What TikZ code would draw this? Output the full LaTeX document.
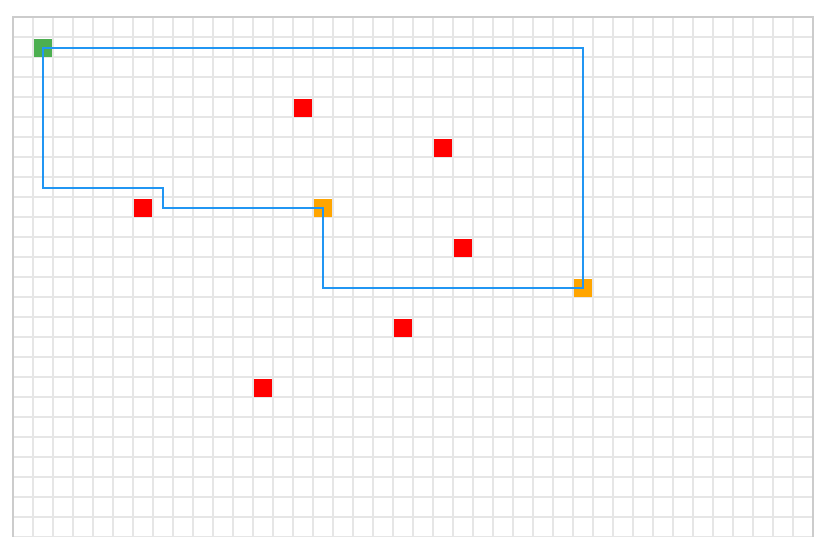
\documentclass[tikz,border=0pt]{standalone}
\usetikzlibrary{calc}
\definecolor{gridc}{HTML}{E6E6E6}
\definecolor{borderc}{HTML}{CCCCCC}
\definecolor{pathc}{HTML}{2196F3}
\definecolor{startc}{HTML}{4CAF50}
\definecolor{wayc}{HTML}{FFA500}
\definecolor{obstc}{HTML}{FF0000}
\tikzset{
  gridline/.style={draw=gridc, line width=1.3pt},
  borderline/.style={draw=borderc, line width=1.2pt},
  cell/.style={minimum size=18pt, inner sep=0pt, outer sep=0pt},
  startcell/.style={cell, fill=startc},
  waycell/.style={cell, fill=wayc},
  obstcell/.style={cell, fill=obstc},
  route/.style={draw=pathc, line width=1.8pt, line join=miter}
}
\begin{document}
\begin{tikzpicture}[x=1pt,y=-1pt]
\useasboundingbox (0,0) rectangle (822,537);
\fill[white] (0,0) rectangle (822,537);
\begin{scope}
\clip (0,0) rectangle (822,537);
\foreach \i in {1,...,39} { \draw[gridline] ({13+20*\i},17) -- ({13+20*\i},540); }
\foreach \j in {1,...,26} { \draw[gridline] (13,{17+20*\j}) -- (813,{17+20*\j}); }
\draw[borderline] (13,545) -- (13,17) -- (813,17) -- (813,545);
\end{scope}
\node[startcell] (s) at (43,48) {};
\node[obstcell] (r1) at (303,108) {};
\node[obstcell] (r2) at (443,148) {};
\node[obstcell] (r3) at (143,208) {};
\node[obstcell] (r4) at (463,248) {};
\node[obstcell] (r5) at (403,328) {};
\node[obstcell] (r6) at (263,388) {};
\node[waycell] (w1) at (323,208) {};
\node[waycell] (w2) at (583,288) {};
\coordinate (c1) at (163,208);
\coordinate (c2) at (163,188);
\coordinate (c3) at (43,188);
\draw[route] (s.center) -| (w2.center) -| (w1.center) -- (c1) -- (c2) -- (c3) -- cycle;
\end{tikzpicture}
\end{document}
